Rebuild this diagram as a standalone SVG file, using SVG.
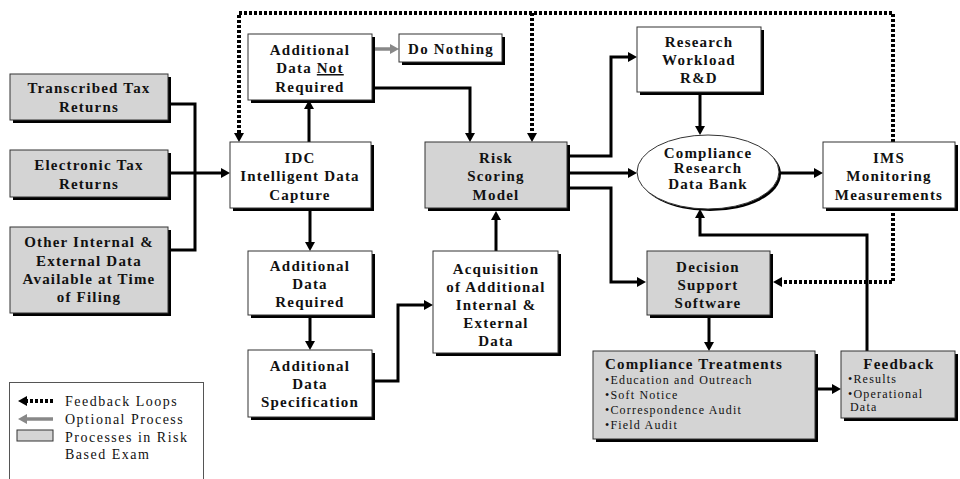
<svg xmlns="http://www.w3.org/2000/svg" width="960" height="479" viewBox="0 0 960 479">
<style>
text{font-family:"Liberation Serif","Times New Roman",serif;fill:#111}
.b{font-weight:bold;font-size:15px;letter-spacing:1.2px;text-anchor:middle}
.l{font-weight:bold;font-size:15px;letter-spacing:1.2px}
.r{font-size:12px;letter-spacing:1.2px}
.lg{font-size:14px;letter-spacing:1.5px}
.box{fill:#fff;stroke:#333;stroke-width:1}
.gbox{fill:#d4d4d4;stroke:#333;stroke-width:1}
.sh{fill:#000}
.c{fill:none;stroke:#000;stroke-width:3;marker-end:url(#ah)}
.cn{fill:none;stroke:#000;stroke-width:3}
.d{fill:none;stroke:#000;stroke-width:4;stroke-dasharray:3 2}
.g{fill:none;stroke:#888;stroke-width:3.5}
</style>
<defs>
<marker id="ah" markerUnits="userSpaceOnUse" markerWidth="10" markerHeight="10" viewBox="0 0 9 10" refX="5" refY="5" orient="auto">
<path d="M0,0 L9,5 L0,10 z" fill="#000"/>
</marker>
<marker id="gh" markerUnits="userSpaceOnUse" markerWidth="10" markerHeight="10" viewBox="0 0 9 10" refX="5" refY="5" orient="auto">
<path d="M0,0 L9,5 L0,10 z" fill="#888"/>
</marker>
</defs>

<g id="connectors">
<path class="cn" d="M168,104 H195 V250 H168"/>
<path class="c" d="M168,173 H226"/>
<path class="c" d="M309,142 V104"/>
<path class="c" d="M372,88 H470 V138"/>
<path class="g" d="M372,49 H395" marker-end="url(#gh)"/>
<path class="c" d="M310,208 V247"/>
<path class="c" d="M310,315 V346"/>
<path class="c" d="M372,381 H398 V305 H429"/>
<path class="c" d="M496,251 V215"/>
<path class="c" d="M567,156 H611 V57 H633"/>
<path class="c" d="M567,173 H633"/>
<path class="c" d="M567,188 H611 V282 H642"/>
<path class="c" d="M700,92 V131"/>
<path class="c" d="M779,173 H819"/>
<path class="c" d="M709,315 V347"/>
<path class="c" d="M815,389 H837"/>
<path class="c" d="M867,351 V235 H700 V213"/>
<path class="d" d="M893,142 V13 H239 V138" marker-end="url(#ah)"/>
<path class="d" d="M532,13 V138" marker-end="url(#ah)"/>
<path class="d" d="M893,208 V282 H777" marker-end="url(#ah)"/>
</g>

<g id="transcribed">
<rect class="sh" x="13" y="77" width="158" height="46"/>
<rect class="gbox" x="10" y="74" width="158" height="46"/>
<text class="b" x="89" y="93">Transcribed Tax</text>
<text class="b" x="89" y="112">Returns</text>
</g>
<g id="electronic">
<rect class="sh" x="13" y="153" width="158" height="47"/>
<rect class="gbox" x="10" y="150" width="158" height="47"/>
<text class="b" x="89" y="170">Electronic Tax</text>
<text class="b" x="89" y="189">Returns</text>
</g>
<g id="other">
<rect class="sh" x="13" y="230" width="158" height="86"/>
<rect class="gbox" x="10" y="227" width="158" height="86"/>
<text class="b" x="89" y="247">Other Internal &amp;</text>
<text class="b" x="89" y="266">External Data</text>
<text class="b" x="89" y="284">Available at Time</text>
<text class="b" x="89" y="302">of Filing</text>
</g>
<g id="idc">
<rect class="sh" x="233" y="145" width="141" height="66"/>
<rect class="box" x="230" y="142" width="141" height="66"/>
<text class="b" x="300" y="163">IDC</text>
<text class="b" x="300" y="181">Intelligent Data</text>
<text class="b" x="300" y="200">Capture</text>
</g>
<g id="notrequired">
<rect class="sh" x="251" y="37" width="124" height="66"/>
<rect class="box" x="248" y="34" width="124" height="66"/>
<text class="b" x="310" y="55">Additional</text>
<text class="b" x="310" y="73">Data <tspan text-decoration="underline">Not</tspan></text>
<text class="b" x="310" y="92">Required</text>
</g>
<g id="donothing">
<rect class="sh" x="402" y="37" width="103" height="28"/>
<rect class="box" x="399" y="34" width="103" height="28"/>
<text class="b" x="451" y="54">Do Nothing</text>
</g>
<g id="risk">
<rect class="sh" x="428" y="145" width="142" height="66"/>
<rect class="gbox" x="425" y="142" width="142" height="66"/>
<text class="b" x="496" y="163">Risk</text>
<text class="b" x="496" y="181">Scoring</text>
<text class="b" x="496" y="200">Model</text>
</g>
<g id="research">
<rect class="sh" x="640" y="30" width="124" height="65"/>
<rect class="box" x="637" y="27" width="124" height="65"/>
<text class="b" x="699" y="47">Research</text>
<text class="b" x="699" y="65">Workload</text>
<text class="b" x="699" y="83">R&amp;D</text>
</g>
<g id="databank">
<ellipse cx="710" cy="174" rx="71" ry="37" fill="#000"/>
<ellipse cx="708" cy="172" rx="71" ry="37" fill="#fff" stroke="#333" stroke-width="1"/>
<text class="b" x="708" y="158">Compliance</text>
<text class="b" x="708" y="173">Research</text>
<text class="b" x="708" y="189">Data Bank</text>
</g>
<g id="ims">
<rect class="sh" x="826" y="145" width="132" height="66"/>
<rect class="box" x="823" y="142" width="132" height="66"/>
<text class="b" x="889" y="163">IMS</text>
<text class="b" x="889" y="181">Monitoring</text>
<text class="b" x="889" y="200">Measurements</text>
</g>
<g id="decision">
<rect class="sh" x="650" y="254" width="123" height="64"/>
<rect class="gbox" x="647" y="251" width="123" height="64"/>
<text class="b" x="708" y="272">Decision</text>
<text class="b" x="708" y="290">Support</text>
<text class="b" x="708" y="308">Software</text>
</g>
<g id="treatments">
<rect class="sh" x="596" y="354" width="222" height="88"/>
<rect class="gbox" x="593" y="351" width="222" height="88"/>
<text class="l" x="605" y="369">Compliance Treatments</text>
<text class="r" x="605" y="384">•Education and Outreach</text>
<text class="r" x="605" y="399">•Soft Notice</text>
<text class="r" x="605" y="414">•Correspondence Audit</text>
<text class="r" x="605" y="429">•Field Audit</text>
</g>
<g id="feedback">
<rect class="sh" x="844" y="354" width="114" height="67"/>
<rect class="gbox" x="841" y="351" width="114" height="67"/>
<text class="b" x="899" y="369">Feedback</text>
<text class="r" x="848" y="383">•Results</text>
<text class="r" x="848" y="398">•Operational</text>
<text class="r" x="850" y="411">Data</text>
</g>
<g id="required">
<rect class="sh" x="251" y="254" width="124" height="64"/>
<rect class="box" x="248" y="251" width="124" height="64"/>
<text class="b" x="310" y="271">Additional</text>
<text class="b" x="310" y="289">Data</text>
<text class="b" x="310" y="307">Required</text>
</g>
<g id="specification">
<rect class="sh" x="251" y="353" width="124" height="67"/>
<rect class="box" x="248" y="350" width="124" height="67"/>
<text class="b" x="310" y="371">Additional</text>
<text class="b" x="310" y="389">Data</text>
<text class="b" x="310" y="407">Specification</text>
</g>
<g id="acquisition">
<rect class="sh" x="436" y="254" width="125" height="102"/>
<rect class="box" x="433" y="251" width="125" height="102"/>
<text class="b" x="496" y="274">Acquisition</text>
<text class="b" x="496" y="292">of Additional</text>
<text class="b" x="496" y="310">Internal &amp;</text>
<text class="b" x="496" y="328">External</text>
<text class="b" x="496" y="346">Data</text>
</g>
<g id="legend">
<rect x="9.5" y="382.5" width="194" height="100" fill="#fff" stroke="#555" stroke-width="1"/>
<path class="d" d="M53,401 H22" marker-end="url(#ah)"/>
<path class="g" d="M53,419 H22" stroke-width="3" marker-end="url(#gh)"/>
<rect class="gbox" x="17" y="430" width="36" height="11"/>
<text class="lg" x="65" y="406">Feedback Loops</text>
<text class="lg" x="65" y="424">Optional Process</text>
<text class="lg" x="65" y="442">Processes in Risk</text>
<text class="lg" x="65" y="459">Based Exam</text>
</g>
</svg>
